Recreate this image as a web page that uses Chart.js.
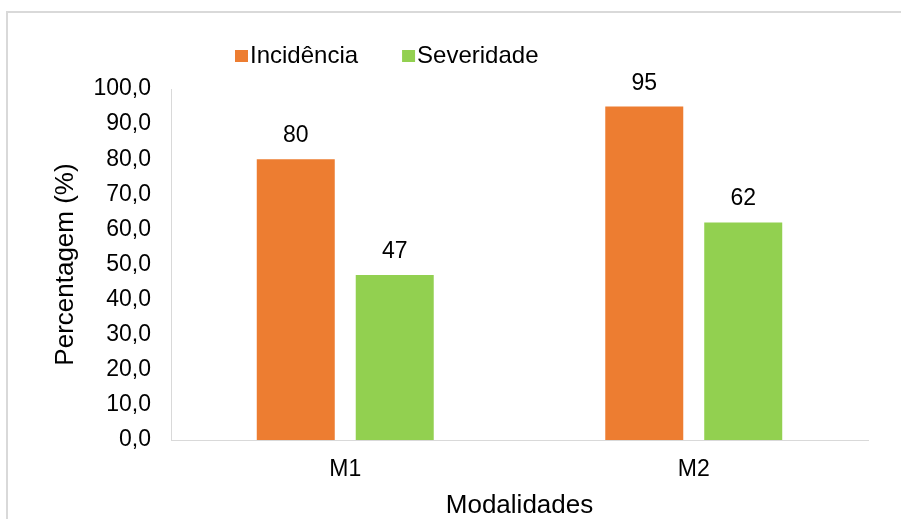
<!DOCTYPE html>
<html>
<head>
<meta charset="utf-8">
<script src="https://cdn.jsdelivr.net/npm/chart.js@4"></script>
<style>
  html, body { margin: 0; padding: 0; background: #fff; overflow: hidden; }
  #wrap { position: relative; width: 901px; height: 519px; overflow: hidden; }
  #frame { position: absolute; left: 6px; top: 11px; width: 895px; height: 508px;
           border-left: 2px solid #d9d9d9; border-top: 2px solid #d9d9d9; box-sizing: border-box; }
  #c { position: absolute; left: 0; top: 0; }
</style>
</head>
<body>
<div id="wrap">
  <div id="frame"></div>
  <canvas id="c" width="901" height="519"></canvas>
</div>
<script>
// Data
const categories = ['M1', 'M2'];
const seriesNames = ['Incidência', 'Severidade'];
const incidencia = [80, 95];
const severidade = [47, 62];
const xTitle = 'Modalidades';
const yTitle = 'Percentagem (%)';

// Styling
const FONT = '"Liberation Sans", Arial, Helvetica, sans-serif';
const ORANGE = '#ED7D31';
const GREEN = '#92D050';
const AXIS = '#d9d9d9';
const TEXT = '#000000';

// Y tick labels use a comma as decimal separator: 10,0 20,0 ...
const fmtTick = v => Number(v).toFixed(1).replace('.', ',');

// Row of legend entries: colored square followed by the series name
const legendRow = {
  id: 'legendRow',
  afterDraw(chart, args, opts) {
    const ctx = chart.ctx;
    ctx.save();
    ctx.font = opts.font;
    ctx.textAlign = 'left';
    ctx.textBaseline = 'alphabetic';
    let x = opts.x;
    chart.data.datasets.forEach(ds => {
      ctx.fillStyle = ds.backgroundColor;
      ctx.fillRect(x, opts.boxTop, opts.boxW, opts.boxH);
      const tx = x + opts.boxW + opts.textGap;
      ctx.fillStyle = opts.color;
      ctx.fillText(ds.label, tx, opts.baseline);
      x = tx + ctx.measureText(ds.label).width + opts.itemGap;
    });
    ctx.restore();
  }
};

// Value printed above every bar
const valueLabels = {
  id: 'valueLabels',
  afterDatasetsDraw(chart, args, opts) {
    const ctx = chart.ctx;
    ctx.save();
    ctx.font = opts.font;
    ctx.fillStyle = opts.color;
    ctx.textAlign = 'center';
    ctx.textBaseline = 'alphabetic';
    chart.data.datasets.forEach((ds, i) => {
      chart.getDatasetMeta(i).data.forEach((bar, j) => {
        ctx.fillText(String(ds.data[j]), bar.x, bar.y - opts.offset);
      });
    });
    ctx.restore();
  }
};

new Chart(document.getElementById('c'), {
  type: 'bar',
  data: {
    labels: categories,
    datasets: [
      { label: seriesNames[0], data: incidencia, backgroundColor: ORANGE,
        categoryPercentage: 0.568, barPercentage: 0.788 },
      { label: seriesNames[1], data: severidade, backgroundColor: GREEN,
        categoryPercentage: 0.568, barPercentage: 0.788 }
    ]
  },
  options: {
    responsive: false,
    animation: false,
    events: [],
    layout: { padding: { left: 0, right: 33, top: 89, bottom: 0 } },
    plugins: {
      legend: { display: false },
      tooltip: { enabled: false },
      legendRow: {
        x: 235, boxTop: 50, boxW: 13, boxH: 12, textGap: 2, itemGap: 44,
        baseline: 63, font: '24px ' + FONT, color: TEXT
      },
      valueLabels: { font: '23px ' + FONT, color: TEXT, offset: 17 }
    },
    scales: {
      x: {
        grid: { display: false, drawTicks: false },
        border: { display: true, color: AXIS, width: 1 },
        ticks: { color: TEXT, font: { family: FONT, size: 23 }, padding: 16 },
        title: { display: true, text: xTitle, color: TEXT, padding: 0,
                 font: { family: FONT, size: 26, lineHeight: 0.98 } },
        afterFit(scale) { scale.height = 79; }
      },
      y: {
        min: 0,
        max: 100,
        grid: { display: false, drawTicks: false },
        border: { display: true, color: AXIS, width: 1 },
        ticks: { stepSize: 10, color: TEXT, padding: 20,
                 font: { family: FONT, size: 23 }, callback: fmtTick },
        title: { display: true, text: yTitle, color: TEXT,
                 padding: { top: 50, bottom: 0 },
                 font: { family: FONT, size: 26, lineHeight: 1.2 } },
        afterFit(scale) { scale.width = 171; }
      }
    }
  },
  plugins: [legendRow, valueLabels]
});
</script>
</body>
</html>
